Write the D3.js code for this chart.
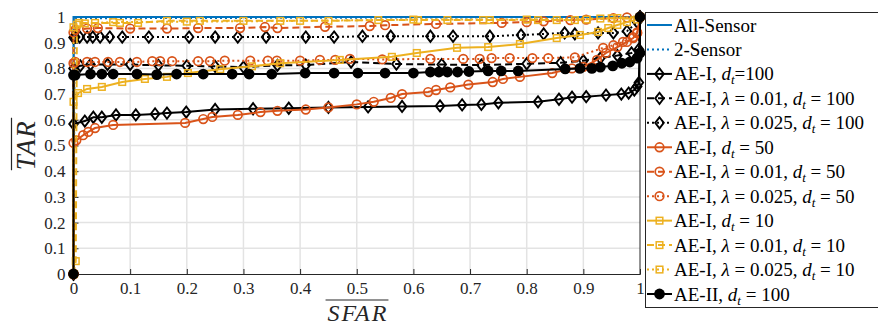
<!DOCTYPE html>
<html>
<head>
<meta charset="utf-8">
<script src="https://cdn.jsdelivr.net/npm/d3@7"></script>
<style>
  body { margin: 0; background: #fff; }
  svg { display: block; font-family: "Liberation Serif", serif; }
</style>
</head>
<body>
<svg id="chart" width="878" height="326"></svg>
<script>
// data: [SFAR, TAR]
const allSensor = [[0, 0], [0, 1], [1, 1]];
const twoSensor = [[0, 0], [0.002, 0.9], [0.004, 0.995], [1, 1]];

const ae1_d100 = [[0, 0], [0, 0.584], [0.02, 0.595], [0.035, 0.61], [0.05, 0.61], [0.075, 0.619], [0.11, 0.619], [0.144, 0.623], [0.165, 0.626], [0.199, 0.63], [0.25, 0.64], [0.317, 0.643], [0.38, 0.645], [0.45, 0.648], [0.52, 0.65], [0.58, 0.652], [0.647, 0.654], [0.686, 0.658], [0.72, 0.66], [0.75, 0.666], [0.82, 0.67], [0.857, 0.68], [0.88, 0.688], [0.905, 0.69], [0.94, 0.696], [0.967, 0.7], [0.98, 0.704], [0.99, 0.716], [0.995, 0.73], [0.998, 0.745], [1, 1]];
const ae1_l01_d100 = [[0, 0], [0, 0.8], [0.012, 0.81], [0.03, 0.815], [0.06, 0.815], [0.1, 0.815], [0.15, 0.812], [0.2, 0.81], [0.25, 0.808], [0.3, 0.805], [0.36, 0.812], [0.41, 0.813], [0.49, 0.825], [0.57, 0.817], [0.65, 0.815], [0.72, 0.813], [0.8, 0.818], [0.86, 0.822], [0.9, 0.83], [0.93, 0.84], [0.96, 0.85], [0.985, 0.86], [0.998, 0.875], [1, 1]];
const ae1_l025_d100 = [[0, 0], [0, 0.92], [0.003, 0.922], [0.011, 0.922], [0.024, 0.922], [0.034, 0.922], [0.047, 0.922], [0.064, 0.922], [0.086, 0.922], [0.133, 0.922], [0.204, 0.922], [0.25, 0.922], [0.29, 0.922], [0.34, 0.922], [0.41, 0.922], [0.46, 0.922], [0.51, 0.925], [0.56, 0.925], [0.63, 0.925], [0.67, 0.925], [0.735, 0.925], [0.79, 0.93], [0.83, 0.934], [0.867, 0.938], [0.885, 0.934], [0.926, 0.938], [0.953, 0.938], [0.977, 0.945], [0.995, 0.98], [1, 1]];

const ae1_d50 = [[0, 0], [0, 0.51], [0.005, 0.52], [0.017, 0.54], [0.026, 0.553], [0.038, 0.568], [0.07, 0.58], [0.197, 0.588], [0.229, 0.603], [0.245, 0.611], [0.29, 0.619], [0.33, 0.63], [0.36, 0.635], [0.41, 0.64], [0.45, 0.648], [0.5, 0.66], [0.53, 0.67], [0.56, 0.685], [0.58, 0.7], [0.626, 0.708], [0.64, 0.716], [0.665, 0.726], [0.697, 0.737], [0.74, 0.747], [0.758, 0.759], [0.788, 0.767], [0.845, 0.782], [0.88, 0.8], [0.9, 0.806], [0.924, 0.833], [0.94, 0.86], [0.96, 0.883], [0.977, 0.903], [0.988, 0.918], [0.995, 0.937], [1, 1]];
const ae1_l01_d50 = [[0, 0], [0, 0.94], [0.003, 0.95], [0.024, 0.955], [0.043, 0.957], [0.1, 0.955], [0.165, 0.955], [0.22, 0.957], [0.294, 0.957], [0.338, 0.961], [0.36, 0.957], [0.444, 0.962], [0.523, 0.965], [0.55, 0.968], [0.64, 0.973], [0.756, 0.977], [0.8, 0.98], [0.83, 0.983], [0.877, 0.988], [0.905, 0.99], [0.953, 0.996], [0.977, 0.998], [1, 1]];
const ae1_l025_d50 = [[0, 0], [0, 0.82], [0.003, 0.825], [0.024, 0.825], [0.038, 0.825], [0.061, 0.825], [0.082, 0.825], [0.112, 0.825], [0.139, 0.828], [0.153, 0.828], [0.174, 0.828], [0.22, 0.828], [0.241, 0.828], [0.267, 0.83], [0.312, 0.83], [0.343, 0.83], [0.359, 0.83], [0.4, 0.83], [0.435, 0.833], [0.462, 0.833], [0.488, 0.837], [0.545, 0.835], [0.63, 0.837], [0.688, 0.837], [0.717, 0.837], [0.738, 0.84], [0.77, 0.84], [0.81, 0.84], [0.838, 0.84], [0.885, 0.843], [0.935, 0.88], [0.953, 0.89], [0.97, 0.903], [0.988, 0.922], [0.995, 0.94], [1, 1]];

const ae1_d10 = [[0, 0], [0, 0.67], [0.008, 0.704], [0.024, 0.72], [0.05, 0.728], [0.086, 0.747], [0.126, 0.759], [0.165, 0.767], [0.202, 0.782], [0.259, 0.797], [0.315, 0.808], [0.365, 0.82], [0.47, 0.833], [0.562, 0.845], [0.606, 0.86], [0.677, 0.88], [0.732, 0.883], [0.788, 0.895], [0.853, 0.918], [0.894, 0.93], [0.926, 0.942], [0.944, 0.957], [0.96, 0.969], [0.977, 0.98], [0.995, 0.99], [1, 1]];
const ae1_l01_d10 = [[0, 0], [0.004, 0.05], [0.006, 0.97], [0.01, 0.977], [0.038, 0.977], [0.082, 0.977], [0.114, 0.977], [0.165, 0.985], [0.223, 0.985], [0.3, 0.985], [0.365, 0.985], [0.45, 0.985], [0.538, 0.988], [0.608, 0.988], [0.66, 0.988], [0.723, 0.988], [0.735, 0.988], [0.82, 0.988], [0.853, 0.988], [0.885, 0.988], [0.906, 0.99], [0.93, 0.994], [0.96, 0.996], [1, 1]];
const ae1_l025_d10 = [[0, 0], [0, 0.96], [0.02, 0.975], [0.07, 0.98], [0.2, 0.982], [0.4, 0.985], [0.6, 0.99], [0.8, 0.99], [0.95, 0.995], [1, 1]];

const ae2_d100 = [[0, 0], [0, 0.774], [0.003, 0.774], [0.03, 0.778], [0.05, 0.778], [0.07, 0.778], [0.112, 0.778], [0.147, 0.776], [0.182, 0.778], [0.229, 0.778], [0.28, 0.778], [0.31, 0.778], [0.35, 0.778], [0.409, 0.782], [0.46, 0.782], [0.502, 0.782], [0.55, 0.782], [0.6, 0.782], [0.63, 0.786], [0.645, 0.786], [0.66, 0.786], [0.678, 0.786], [0.698, 0.788], [0.732, 0.79], [0.755, 0.79], [0.785, 0.79], [0.868, 0.798], [0.894, 0.8], [0.915, 0.8], [0.93, 0.805], [0.952, 0.81], [0.968, 0.82], [0.982, 0.825], [0.995, 0.84], [1, 0.86], [1, 1]];

const xTicks = [0, 0.1, 0.2, 0.3, 0.4, 0.5, 0.6, 0.7, 0.8, 0.9, 1];
const yTicks = [0, 0.1, 0.2, 0.3, 0.4, 0.5, 0.6, 0.7, 0.8, 0.9, 1];

const BLUE = "#0072BD", ORANGE = "#D95319", YELLOW = "#EDB120", BLACK = "#000";

// series in MATLAB draw order
const series = [
  { label: ["All-Sensor"], data: allSensor, color: BLUE, dash: null, marker: null },
  { label: ["2-Sensor"], data: twoSensor, color: BLUE, dash: "2,3", marker: null },
  { label: ["AE-I, ", "d", "t", "=100"], data: ae1_d100, color: BLACK, dash: null, marker: "diamond" },
  { label: ["AE-I, ", "λ", " = 0.01, ", "d", "t", " = 100"], data: ae1_l01_d100, color: BLACK, dash: "7,4", marker: "diamond" },
  { label: ["AE-I, ", "λ", " = 0.025, ", "d", "t", " = 100"], data: ae1_l025_d100, color: BLACK, dash: "2,3", marker: "diamond" },
  { label: ["AE-I, ", "d", "t", " = 50"], data: ae1_d50, color: ORANGE, dash: null, marker: "circle" },
  { label: ["AE-I, ", "λ", " = 0.01, ", "d", "t", " = 50"], data: ae1_l01_d50, color: ORANGE, dash: "7,4", marker: "circle" },
  { label: ["AE-I, ", "λ", " = 0.025, ", "d", "t", " = 50"], data: ae1_l025_d50, color: ORANGE, dash: "2,3", marker: "circle" },
  { label: ["AE-I, ", "d", "t", " = 10"], data: ae1_d10, color: YELLOW, dash: null, marker: "square" },
  { label: ["AE-I, ", "λ", " = 0.01, ", "d", "t", " = 10"], data: ae1_l01_d10, color: YELLOW, dash: "7,4", marker: "square" },
  { label: ["AE-I, ", "λ", " = 0.025, ", "d", "t", " = 10"], data: ae1_l025_d10, color: YELLOW, dash: "2,3", marker: "square" },
  { label: ["AE-II, ", "d", "t", " = 100"], data: ae2_d100, color: BLACK, dash: null, marker: "dot" }
];

const svg = d3.select("#chart");
const plot = { left: 73.5, right: 640, top: 17, bottom: 274 };

const x = d3.scaleLinear().domain([0, 1]).range([plot.left, plot.right]);
const y = d3.scaleLinear().domain([0, 1]).range([plot.bottom, plot.top]);

// grid
const grid = svg.append("g").attr("stroke", "#e3e3e3").attr("stroke-width", 1.5);
grid.selectAll("line.vx").data(xTicks.slice(1, -1)).enter().append("line")
  .attr("x1", d => x(d)).attr("x2", d => x(d))
  .attr("y1", plot.top).attr("y2", plot.bottom);
grid.selectAll("line.hy").data(yTicks.slice(1, -1)).enter().append("line")
  .attr("x1", plot.left).attr("x2", plot.right)
  .attr("y1", d => y(d)).attr("y2", d => y(d));

// axes
const xAxis = d3.axisBottom(x).tickValues(xTicks).tickSize(-5).tickPadding(8)
  .tickFormat(d => d === 0 || d === 1 ? String(d) : d3.format(".1f")(d));
const yAxis = d3.axisLeft(y).tickValues(yTicks).tickSize(-5).tickPadding(8)
  .tickFormat(d => d === 0 || d === 1 ? String(d) : d3.format(".1f")(d));

const gx = svg.append("g").attr("transform", `translate(0,${plot.bottom})`).call(xAxis);
const gy = svg.append("g").attr("transform", `translate(${plot.left},0)`).call(yAxis);
[gx, gy].forEach(g => {
  g.select(".domain").attr("stroke", "#262626").attr("stroke-width", 1);
  g.selectAll(".tick line").attr("stroke", "#262626");
  g.selectAll(".tick text").attr("fill", "#262626")
    .style("font-family", "Liberation Serif, serif").style("font-size", "17px");
});
// top and right box edges
svg.append("line").attr("x1", plot.left).attr("x2", plot.right).attr("y1", plot.top).attr("y2", plot.top)
  .attr("stroke", "#262626");
svg.append("line").attr("x1", plot.right).attr("x2", plot.right).attr("y1", plot.top).attr("y2", plot.bottom)
  .attr("stroke", "#262626");

// markers
function drawMarker(g, type, color, cx, cy) {
  if (type === "diamond") {
    g.append("path").attr("d", `M${cx},${cy - 5.6}L${cx + 4.3},${cy}L${cx},${cy + 5.6}L${cx - 4.3},${cy}Z`)
      .attr("fill", "none").attr("stroke", color).attr("stroke-width", 1.9);
  } else if (type === "circle") {
    g.append("circle").attr("cx", cx).attr("cy", cy).attr("r", 4.3)
      .attr("fill", "none").attr("stroke", color).attr("stroke-width", 1.7);
  } else if (type === "square") {
    g.append("rect").attr("x", cx - 3.3).attr("y", cy - 3.3).attr("width", 6.6).attr("height", 6.6)
      .attr("fill", "none").attr("stroke", color).attr("stroke-width", 1.5);
  } else if (type === "dot") {
    g.append("circle").attr("cx", cx).attr("cy", cy).attr("r", 5.4).attr("fill", color);
  }
}

const line = d3.line().x(d => x(d[0])).y(d => y(d[1]));

series.forEach(s => {
  const g = svg.append("g");
  g.append("path").datum(s.data).attr("d", line)
    .attr("fill", "none").attr("stroke", s.color).attr("stroke-width", 2)
    .attr("stroke-dasharray", s.dash);
  if (s.marker) {
    s.data.forEach(d => drawMarker(g, s.marker, s.color, x(d[0]), y(d[1])));
  }
});

// axis labels with overline
const xl = svg.append("text").attr("x", 358).attr("y", 320.5).attr("text-anchor", "middle")
  .style("font-size", "24px").style("font-style", "italic").style("letter-spacing", "2px")
  .attr("fill", "#262626").text("SFAR");
const xlw = xl.node().getComputedTextLength();
svg.append("line").attr("x1", 358 - xlw / 2 - 2).attr("x2", 358 + xlw / 2)
  .attr("y1", 300).attr("y2", 300).attr("stroke", "#262626").attr("stroke-width", 1.2);

const yl = svg.append("text").attr("transform", "translate(35,145) rotate(-90)").attr("text-anchor", "middle")
  .style("font-size", "27px").style("font-style", "italic").style("letter-spacing", "1.5px")
  .attr("fill", "#262626").text("TAR");
const ylw = yl.node().getComputedTextLength();
svg.append("line").attr("x1", 11.5).attr("x2", 11.5)
  .attr("y1", 145 - ylw / 2 - 2).attr("y2", 145 + ylw / 2)
  .attr("stroke", "#262626").attr("stroke-width", 1.2);

// legend
const lg = svg.append("g");
lg.append("rect").attr("x", 645.5).attr("y", 12.5).attr("width", 240).attr("height", 295)
  .attr("fill", "#fff").attr("stroke", "#262626").attr("stroke-width", 1);

const rowY = d3.scaleLinear().domain([0, series.length - 1]).range([25, 294]);
series.forEach((s, i) => {
  const cy = rowY(i);
  lg.append("line").attr("x1", 647).attr("x2", 672).attr("y1", cy).attr("y2", cy)
    .attr("stroke", s.color).attr("stroke-width", 2).attr("stroke-dasharray", s.dash);
  if (s.marker) drawMarker(lg, s.marker, s.color, 659.5, cy);
  const t = lg.append("text").attr("x", 674).attr("y", cy + 6.5)
    .style("font-size", "19px").attr("fill", "#000");
  s.label.forEach((part, k) => {
    const ts = t.append("tspan").text(part);
    if (part === "d" || part === "λ") ts.style("font-style", "italic");
    if (part === "t" && s.label[k - 1] === "d") {
      ts.style("font-style", "italic").style("font-size", "13px").attr("dy", 4);
    }
    if (k > 0 && s.label[k - 1] === "t" && s.label[k - 2] === "d") ts.attr("dy", -4);
  });
});
</script>
</body>
</html>
